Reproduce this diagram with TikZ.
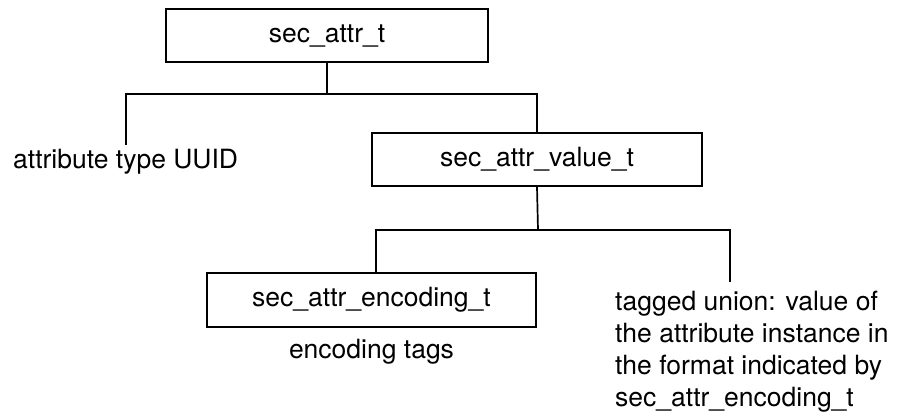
\documentclass[tikz,border=0pt]{standalone}
\usepackage{fontspec}
\setmainfont{TeX Gyre Heros}
\begin{document}
\begin{tikzpicture}[x=1pt,y=-1pt,
  every node/.style={font=\fontsize{26.5}{32}\selectfont},
  typebox/.style={draw, line width=1.8pt, inner sep=0pt, minimum height=53pt},
  plain/.style={inner sep=0pt},
  conn/.style={line width=1.7pt}]
\useasboundingbox (0,0) rectangle (900,413);
\node[typebox, minimum width=322pt] (b1) at (327,35.5) {sec\_attr\_t};
\node[typebox, minimum width=330pt] (b2) at (537,159.5) {sec\_attr\_value\_t};
\node[typebox, minimum width=329pt, minimum height=54pt] (b3) at (371.5,300) {sec\_attr\_encoding\_t};
\node[plain, anchor=base west] (uuid) at (13,168) {attribute type UUID};
\node[plain, anchor=base] (tags) at (371.5,358) {encoding tags};
\node[plain, anchor=north west, align=left] (tagged) at (615,291)
  {tagged union: value of\\the attribute instance in\\the format indicated by\\sec\_attr\_encoding\_t};
\coordinate (j1) at (327,94);
\coordinate (uuidtop) at (126,145);
\coordinate (j2) at (538,230);
\coordinate (b3top) at (376,273);
\coordinate (tagtop) at (730,282);
\draw[conn] (b1.south) -- (j1);
\draw[conn] (uuidtop) |- (j1) -| (b2.north);
\draw[conn] (b2.south) -- (j2);
\draw[conn] (b3top) |- (j2) -| (tagtop);
\end{tikzpicture}
\end{document}
